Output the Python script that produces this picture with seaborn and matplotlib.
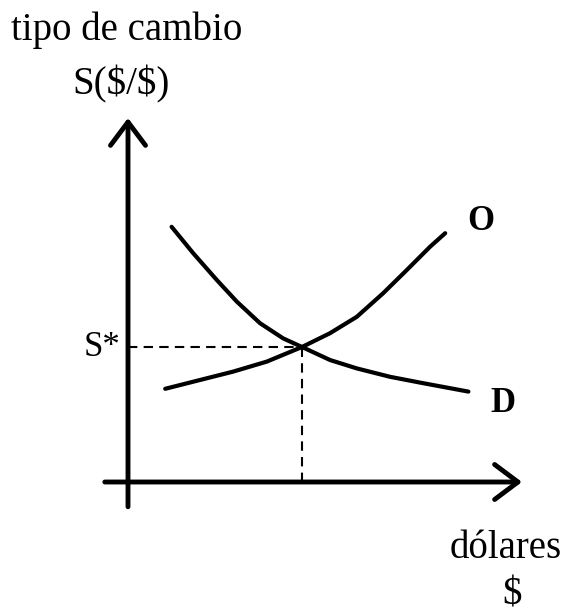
import matplotlib
matplotlib.use("Agg")
import matplotlib.pyplot as plt
import seaborn as sns
import pandas as pd

sns.set_theme(style="white")
plt.rcParams['font.family'] = ['Liberation Serif', 'DejaVu Serif']
plt.rcParams['text.color'] = 'black'

# Demand curve (D) points: quantity of dollars vs exchange rate
demand_q = [1.09, 1.63, 2.22, 2.72, 3.30, 3.88, 4.35, 5.05, 5.72, 6.55, 7.38, 8.51]
demand_s = [6.38, 5.72, 5.05, 4.51, 3.97, 3.59, 3.375, 3.05, 2.84, 2.63, 2.47, 2.26]
# Supply curve (O) points
supply_q = [0.93, 1.80, 2.63, 3.47, 4.35, 5.05, 5.72, 6.38, 6.97, 7.55, 7.93]
supply_s = [2.33, 2.55, 2.76, 3.01, 3.375, 3.72, 4.13, 4.72, 5.30, 5.88, 6.22]
# Equilibrium
eq_q = 4.35
eq_s = 3.375

df_d = pd.DataFrame({"q": demand_q, "s": demand_s})
df_o = pd.DataFrame({"q": supply_q, "s": supply_s})

fig = plt.figure(figsize=(5.66, 6.13), dpi=100)
ax = fig.add_axes([0, 0, 1, 1])
ax.set_xlim(-3.2, 10.95)
ax.set_ylim(-3.275, 12.05)
ax.axis("off")

sns.lineplot(data=df_d, x="q", y="s", ax=ax, color="black", lw=3.0, sort=False,
             solid_capstyle="round", solid_joinstyle="round")
sns.lineplot(data=df_o, x="q", y="s", ax=ax, color="black", lw=3.0, sort=False,
             solid_capstyle="round", solid_joinstyle="round")

# dashed guides
ax.plot([0, eq_q], [eq_s, eq_s], color="black", lw=1.5, ls=(0, (4.5, 3)))
ax.plot([eq_q, eq_q], [0, eq_s], color="black", lw=1.5, ls=(0, (4.5, 3)))

# axes with open arrowheads
astyle = "->,head_length=1.4,head_width=1.05"
ax.annotate("", xy=(0, 9.1), xytext=(0, -0.62),
            arrowprops=dict(arrowstyle=astyle, lw=3.5, color="black",
                            shrinkA=0, shrinkB=0, joinstyle="round", capstyle="round"))
ax.annotate("", xy=(9.85, 0), xytext=(-0.58, 0),
            arrowprops=dict(arrowstyle=astyle, lw=3.5, color="black",
                            shrinkA=0, shrinkB=0, joinstyle="round", capstyle="round"))

# labels
ax.text(-0.03, 11.3, "tipo de cambio", ha="center", va="center", fontsize=28)
ax.text(-0.18, 9.93, r"S(\$/\$)", ha="center", va="center", fontsize=28)
ax.text(-0.65, eq_s - 0.02, "S*", ha="center", va="center", fontsize=25)
ax.text(8.83, 6.5, "O", ha="center", va="center", fontsize=25, fontweight="bold")
ax.text(9.38, 1.95, "D", ha="center", va="center", fontsize=25, fontweight="bold")
ax.text(9.43, -1.65, "dólares", ha="center", va="center", fontsize=28)
ax.text(9.6, -2.83, r"\$", ha="center", va="center", fontsize=28)

fig.savefig("out.png", dpi=100)
